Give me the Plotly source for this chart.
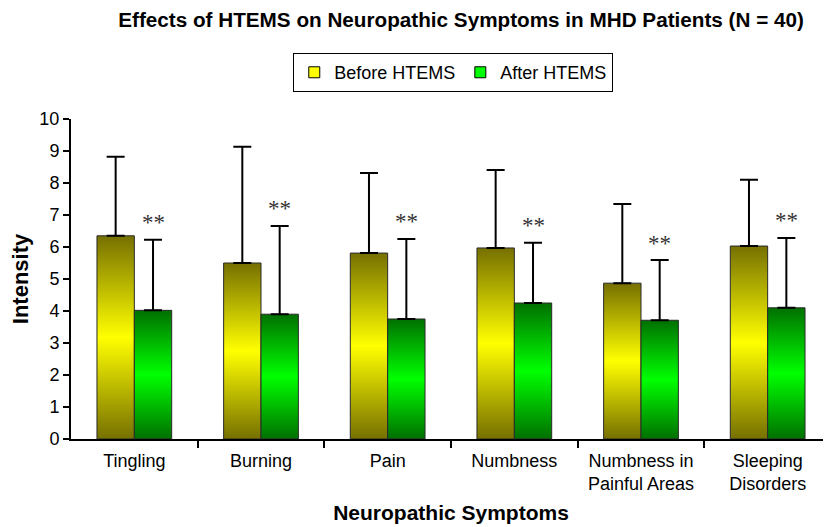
import plotly.graph_objects as go

categories = ["Tingling", "Burning", "Pain", "Numbness", "Numbness in<br>Painful Areas", "Sleeping<br>Disorders"]
before_mean = [6.35, 5.50, 5.81, 5.97, 4.87, 6.03]
before_sd = [2.47, 3.63, 2.50, 2.44, 2.47, 2.07]
after_mean = [4.02, 3.90, 3.75, 4.25, 3.71, 4.10]
after_sd = [2.21, 2.76, 2.50, 1.88, 1.88, 2.18]
significance = ["**", "**", "**", "**", "**", "**"]

yellow_scale = [[0, "#767000"], [0.5, "#ffff00"], [1, "#767000"]]
green_scale = [[0, "#007000"], [0.5, "#00ff00"], [1, "#007000"]]

half = 0.295
fig = go.Figure()

def add_bar(x0, x1, h, scale):
    fig.add_trace(go.Scatter(
        x=[x0, x1, x1, x0, x0], y=[0, 0, h, h, 0],
        mode="lines", fill="toself",
        line=dict(color="#2a2a2a", width=1),
        fillgradient=dict(type="vertical", colorscale=scale),
        showlegend=False, hoverinfo="skip"))

for i in range(len(categories)):
    c = i + 0.5
    add_bar(c - half, c, before_mean[i], yellow_scale)
    add_bar(c, c + half, after_mean[i], green_scale)

xb = [i + 0.5 - half / 2 for i in range(len(categories))]
xa = [i + 0.5 + half / 2 for i in range(len(categories))]

fig.add_trace(go.Scatter(
    x=xb, y=before_mean, mode="markers",
    marker=dict(size=1, color="rgba(0,0,0,0)"),
    error_y=dict(type="data", symmetric=False, array=before_sd,
                 arrayminus=[0] * len(before_sd), color="black", thickness=2, width=9),
    showlegend=False, hoverinfo="skip"))
fig.add_trace(go.Scatter(
    x=xa, y=after_mean, mode="markers",
    marker=dict(size=1, color="rgba(0,0,0,0)"),
    error_y=dict(type="data", symmetric=False, array=after_sd,
                 arrayminus=[0] * len(after_sd), color="black", thickness=2, width=9),
    showlegend=False, hoverinfo="skip"))

# legend entries
fig.add_trace(go.Scatter(x=[None], y=[None], mode="markers", name="Before HTEMS",
                         marker=dict(symbol="square", size=11, color="#ffff00",
                                     line=dict(color="black", width=1))))
fig.add_trace(go.Scatter(x=[None], y=[None], mode="markers", name="After HTEMS",
                         marker=dict(symbol="square", size=11, color="#00ff00",
                                     line=dict(color="black", width=1))))

for i in range(len(categories)):
    fig.add_annotation(x=xa[i], y=after_mean[i] + after_sd[i] + 0.08, text=significance[i],
                       showarrow=False, yanchor="bottom",
                       font=dict(family="Liberation Serif", size=23, color="#333333"))

fig.update_layout(
    width=823, height=519,
    margin=dict(l=63, r=0, t=111, b=88),
    plot_bgcolor="white", paper_bgcolor="white",
    font=dict(family="Liberation Sans, Arial", size=18, color="black"),
    title=dict(text="<b>Effects of HTEMS on Neuropathic Symptoms in MHD Patients (N = 40)</b>",
               xref="container", x=0.5505, xanchor="center", yref="container", y=0.977,
               yanchor="middle", font=dict(size=20.7, color="black")),
    legend=dict(orientation="h", x=0.503, xanchor="center", y=1.206, yanchor="top",
                bordercolor="black", borderwidth=1, bgcolor="white",
                font=dict(size=18), itemwidth=30, tracegroupgap=0),
    showlegend=True,
    xaxis=dict(range=[0, 6], tickmode="array", tickvals=[i + 0.5 for i in range(6)],
               ticktext=categories, ticks="", showgrid=False, zeroline=False,
               showline=True, linecolor="black", linewidth=2, ticklabelstandoff=4,
               minor=dict(tickmode="array", tickvals=[1, 2, 3, 4, 5], ticks="outside",
                          ticklen=7, tickwidth=2, tickcolor="black", showgrid=False),
               title=dict(text="<b>Neuropathic Symptoms</b>", font=dict(size=21), standoff=12)),
    yaxis=dict(range=[0, 10], tickmode="array", tickvals=list(range(11)),
               ticks="outside", ticklen=6, tickwidth=2, tickcolor="black",
               showgrid=False, zeroline=False, showline=True, linecolor="black", linewidth=2,
               title=dict(text="<b>Intensity</b>", font=dict(size=22), standoff=10)),
)

fig.write_html("out.html")
